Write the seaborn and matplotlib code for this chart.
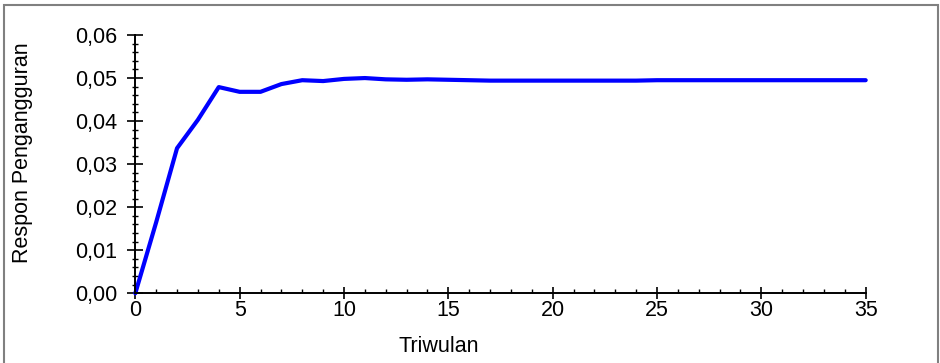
import pandas as pd
import matplotlib
matplotlib.use("Agg")
import matplotlib.pyplot as plt
import seaborn as sns
from matplotlib.ticker import MultipleLocator, FuncFormatter
from matplotlib.patches import Rectangle

# data
triwulan = list(range(0, 36))
respon = [0.0000, 0.0165, 0.0337, 0.0403, 0.0479, 0.0468, 0.0468, 0.0486,
          0.0495, 0.0493, 0.0498, 0.0500, 0.0497, 0.0496, 0.0497, 0.0496,
          0.0495, 0.0494, 0.0494, 0.0494, 0.0494, 0.0494, 0.0494, 0.0494,
          0.0494, 0.0495, 0.0495, 0.0495, 0.0495, 0.0495, 0.0495, 0.0495,
          0.0495, 0.0495, 0.0495, 0.0495]
x_ticks = [0, 5, 10, 15, 20, 25, 30, 35]
y_ticks = [0.00, 0.01, 0.02, 0.03, 0.04, 0.05, 0.06]

df = pd.DataFrame({"Triwulan": triwulan, "Respon": respon})

sns.set_style("white")
plt.rcParams["font.family"] = ["Liberation Sans", "DejaVu Sans"]
plt.rcParams.update({"text.color": "black", "axes.labelcolor": "black",
                     "xtick.color": "black", "ytick.color": "black"})

fig = plt.figure(figsize=(9.4, 3.63), dpi=100)
ax = fig.add_axes([135.3 / 940, 1 - 293.3 / 363, 730.4 / 940, 258.3 / 363])

sns.lineplot(data=df, x="Triwulan", y="Respon", ax=ax, color="#0000ff",
             linewidth=3, clip_on=False)

ax.set_xlim(0, 35)
ax.set_ylim(0, 0.06)
ax.set_xticks(x_ticks)
ax.set_yticks(y_ticks)
ax.xaxis.set_minor_locator(MultipleLocator(1))
ax.yaxis.set_minor_locator(MultipleLocator(0.002))
ax.yaxis.set_major_formatter(FuncFormatter(lambda v, p: f"{v:.2f}".replace(".", ",")))

for s in ["top", "right"]:
    ax.spines[s].set_visible(False)
for s in ["left", "bottom"]:
    ax.spines[s].set_linewidth(1.4)
    ax.spines[s].set_color("black")

ax.tick_params(axis="y", which="major", direction="inout", length=11.5, width=1.2,
               pad=7, labelsize=15.5, left=True)
ax.tick_params(axis="y", which="minor", direction="inout", length=5, width=1, left=True)
ax.tick_params(axis="x", which="major", direction="inout", length=8.5, width=1.2,
               pad=0.5, labelsize=15.5, bottom=True)
ax.tick_params(axis="x", which="minor", direction="in", length=3, width=1, bottom=True)

ax.set_xlabel("Triwulan", fontsize=15.5)
ax.set_ylabel("Respon Pengangguran", fontsize=15.5)
ax.xaxis.set_label_coords((438.8 - 135.3) / 730.4, -0.165)
ax.yaxis.set_label_coords(-0.140, 0.543)

# grey frame round the figure
fig.patches.append(Rectangle((4 / 940, -0.05), 934 / 940, 1.05 - 5 / 363,
                             transform=fig.transFigure, fill=False,
                             edgecolor="#808080", linewidth=1.5))

fig.savefig("out.png", dpi=100)
